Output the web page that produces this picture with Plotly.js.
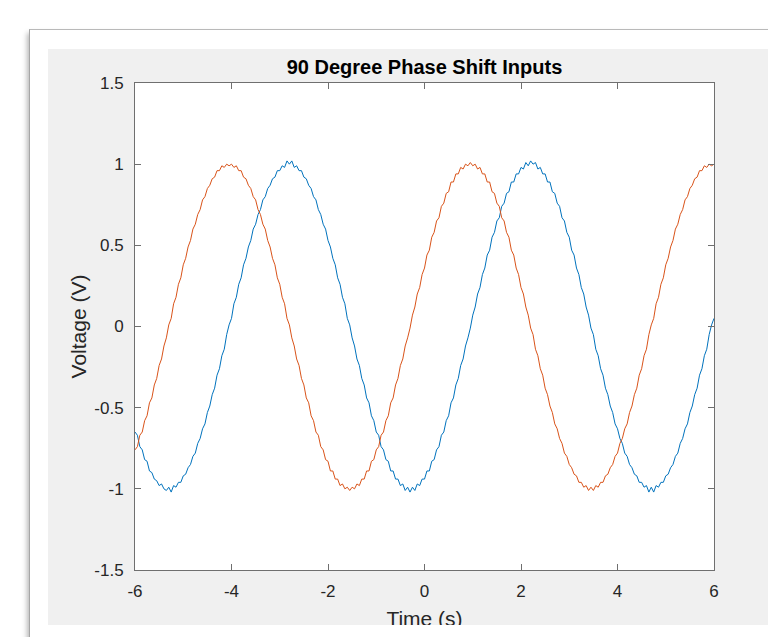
<!DOCTYPE html>
<html>
<head>
<meta charset="utf-8">
<script src="https://cdn.plot.ly/plotly-3.0.1.min.js"></script>
<style>
html,body{margin:0;padding:0;background:#ffffff;width:768px;height:637px;overflow:hidden;}
#win{position:absolute;left:29px;top:29px;width:780px;height:640px;border-top:1px solid #b9b9b9;border-left:1px solid #a6a6a6;box-shadow:-4px 2px 5px -2px rgba(0,0,0,0.28);background:#ffffff;}
#fig{position:absolute;left:48px;top:49px;width:720px;height:576px;overflow:hidden;background:#f0f0f0;}
#plot{width:720px;height:600px;}
</style>
</head>
<body>
<div id="win"></div>
<div id="fig"><div id="plot"></div></div>
<script>
// Sampling of the recorded signals (seconds)
const startTime = -6;
const sampleStep = 0.05;

// Input 1 (blue) voltage samples, V
const input1Voltage = [
-0.65,-0.67,-0.74,-0.76,-0.82,-0.83,-0.89,-0.90,-0.94,-0.95,-0.98,-0.97,-1.00,-1.01,-0.99,-1.02,-0.98,-0.99,-0.96,-0.96,
-0.92,-0.91,-0.87,-0.85,-0.80,-0.78,-0.72,-0.69,-0.63,-0.60,-0.53,-0.49,-0.42,-0.38,-0.30,-0.26,-0.18,-0.14,-0.05,
0.01,0.05,0.14,0.18,0.26,0.30,0.38,0.42,0.49,0.53,
0.60,0.63,0.69,0.72,0.78,0.80,0.85,0.87,0.91,0.92,
0.96,0.96,0.99,0.98,1.02,1.00,1.02,0.98,0.99,0.96,
0.96,0.92,0.91,0.87,0.85,0.80,0.78,0.72,0.69,0.63,
0.60,0.53,0.49,0.42,0.38,0.30,0.26,0.18,0.14,0.05,
0.01,-0.07,-0.12,-0.20,-0.24,-0.32,-0.36,-0.44,-0.47,-0.55,
-0.58,-0.65,-0.67,-0.74,-0.76,-0.82,-0.83,-0.89,-0.89,-0.94,
-0.94,-0.98,-0.97,-1.01,-0.99,-1.02,-0.99,-1.01,-0.97,-0.98,
-0.94,-0.94,-0.89,-0.89,-0.83,-0.82,-0.76,-0.74,-0.67,-0.65,
-0.58,-0.55,-0.47,-0.44,-0.36,-0.32,-0.24,-0.20,-0.12,-0.07,
-0.01,0.07,0.12,0.20,0.24,0.32,0.36,0.44,0.47,0.55,
0.58,0.65,0.67,0.74,0.76,0.82,0.83,0.89,0.89,0.94,
0.94,0.98,0.97,1.01,0.99,1.02,1.00,1.01,0.97,0.98,
0.94,0.94,0.89,0.89,0.83,0.82,0.76,0.74,0.67,0.65,
0.58,0.55,0.47,0.44,0.36,0.32,0.24,0.20,0.12,0.07,
-0.01,-0.05,-0.14,-0.18,-0.26,-0.30,-0.38,-0.42,-0.49,-0.53,
-0.60,-0.63,-0.69,-0.72,-0.78,-0.80,-0.85,-0.87,-0.91,-0.92,
-0.96,-0.96,-0.99,-0.98,-1.02,-0.99,-1.02,-0.98,-0.99,-0.96,
-0.96,-0.92,-0.91,-0.87,-0.85,-0.80,-0.78,-0.72,-0.69,-0.63,
-0.60,-0.53,-0.49,-0.42,-0.38,-0.30,-0.26,-0.18,-0.14,-0.05,
0.01,0.05
];

// Input 2 (orange) voltage samples, V
const input2Voltage = [
-0.76,-0.74,-0.67,-0.65,-0.58,-0.55,-0.47,-0.44,-0.36,-0.32,-0.24,-0.20,-0.12,-0.07,
0.01,0.05,0.14,0.18,0.26,0.30,0.38,0.42,0.49,0.53,
0.60,0.63,0.69,0.72,0.78,0.80,0.85,0.87,0.91,0.92,
0.96,0.96,0.99,0.98,1.00,0.99,1.00,0.98,0.99,0.96,
0.96,0.92,0.91,0.87,0.85,0.80,0.78,0.72,0.69,0.63,
0.60,0.53,0.49,0.42,0.38,0.30,0.26,0.18,0.14,0.05,
0.01,-0.07,-0.12,-0.20,-0.24,-0.32,-0.36,-0.44,-0.47,-0.55,
-0.58,-0.65,-0.67,-0.74,-0.76,-0.82,-0.83,-0.89,-0.89,-0.94,
-0.94,-0.98,-0.97,-1.00,-0.99,-1.01,-0.99,-1.00,-0.97,-0.98,
-0.94,-0.94,-0.89,-0.89,-0.83,-0.82,-0.76,-0.74,-0.67,-0.65,
-0.58,-0.55,-0.47,-0.44,-0.36,-0.32,-0.24,-0.20,-0.12,-0.07,
-0.01,0.07,0.12,0.20,0.24,0.32,0.36,0.44,0.47,0.55,
0.58,0.65,0.67,0.74,0.76,0.82,0.83,0.89,0.89,0.94,
0.94,0.98,0.97,1.00,0.99,1.01,0.99,1.00,0.97,0.98,
0.94,0.94,0.89,0.89,0.83,0.82,0.76,0.74,0.67,0.65,
0.58,0.55,0.47,0.44,0.36,0.32,0.24,0.20,0.12,0.07,
-0.01,-0.05,-0.14,-0.18,-0.26,-0.30,-0.38,-0.42,-0.49,-0.53,
-0.60,-0.63,-0.69,-0.72,-0.78,-0.80,-0.85,-0.87,-0.91,-0.92,
-0.96,-0.96,-0.99,-0.98,-1.01,-0.99,-1.01,-0.98,-0.99,-0.96,
-0.96,-0.92,-0.91,-0.87,-0.85,-0.80,-0.78,-0.72,-0.69,-0.63,
-0.60,-0.53,-0.49,-0.42,-0.38,-0.30,-0.26,-0.18,-0.14,-0.05,
0.01,0.05,0.14,0.18,0.26,0.30,0.38,0.42,0.49,0.53,
0.60,0.63,0.69,0.72,0.78,0.80,0.85,0.87,0.91,0.92,
0.96,0.96,0.99,0.98,1.00,0.99,1.00
];

// Axis ticks
const xTickValues = [-6, -4, -2, 0, 2, 4, 6];
const xTickLabels = ["-6", "-4", "-2", "0", "2", "4", "6"];
const yTickValues = [-1.5, -1, -0.5, 0, 0.5, 1, 1.5];
const yTickLabels = ["-1.5", "-1", "-0.5", "0", "0.5", "1", "1.5"];

const FONT = "Liberation Sans, Arial, Helvetica, sans-serif";
const TEXT = "#262626";
const AXIS = "#6f6f6f";

const traces = [
  {type: "scatter", mode: "lines", name: "Input 1", x0: startTime, dx: sampleStep, y: input1Voltage,
   line: {color: "#0072BD", width: 1, simplify: false}, hoverinfo: "skip"},
  {type: "scatter", mode: "lines", name: "Input 2", x0: startTime, dx: sampleStep, y: input2Voltage,
   line: {color: "#D95319", width: 1, simplify: false}, hoverinfo: "skip"}
];

const axisCommon = {
  showline: true, linecolor: AXIS, linewidth: 1, mirror: "ticks",
  ticks: "inside", ticklen: 6, tickwidth: 1, tickcolor: AXIS,
  showgrid: false, zeroline: false, fixedrange: true,
  tickfont: {family: FONT, size: 17, color: TEXT}
};

const layout = {
  width: 720, height: 600,
  margin: {l: 87, r: 54, t: 34, b: 79, pad: 0},
  paper_bgcolor: "#f0f0f0", plot_bgcolor: "#ffffff",
  showlegend: false,
  title: {text: "90 Degree Phase Shift Inputs", font: {family: FONT, size: 20, color: "#000000", weight: "bold"},
          x: 0.5, xref: "paper", xanchor: "center", y: 1 - 17.5/600, yref: "container", yanchor: "middle"},
  xaxis: Object.assign({}, axisCommon, {
    range: [-6, 6], tickmode: "array", tickvals: xTickValues, ticktext: xTickLabels,
    ticklabelstandoff: 6,
    title: {text: "Time (s)", font: {family: FONT, size: 21, color: TEXT}, standoff: 10}
  }),
  yaxis: Object.assign({}, axisCommon, {
    range: [-1.5, 1.5], tickmode: "array", tickvals: yTickValues, ticktext: yTickLabels,
    ticklabelstandoff: 7,
    title: {text: "Voltage (V)", font: {family: FONT, size: 21, color: TEXT}, standoff: 1}
  })
};

Plotly.newPlot("plot", traces, layout, {staticPlot: true, displayModeBar: false});
</script>
</body>
</html>
